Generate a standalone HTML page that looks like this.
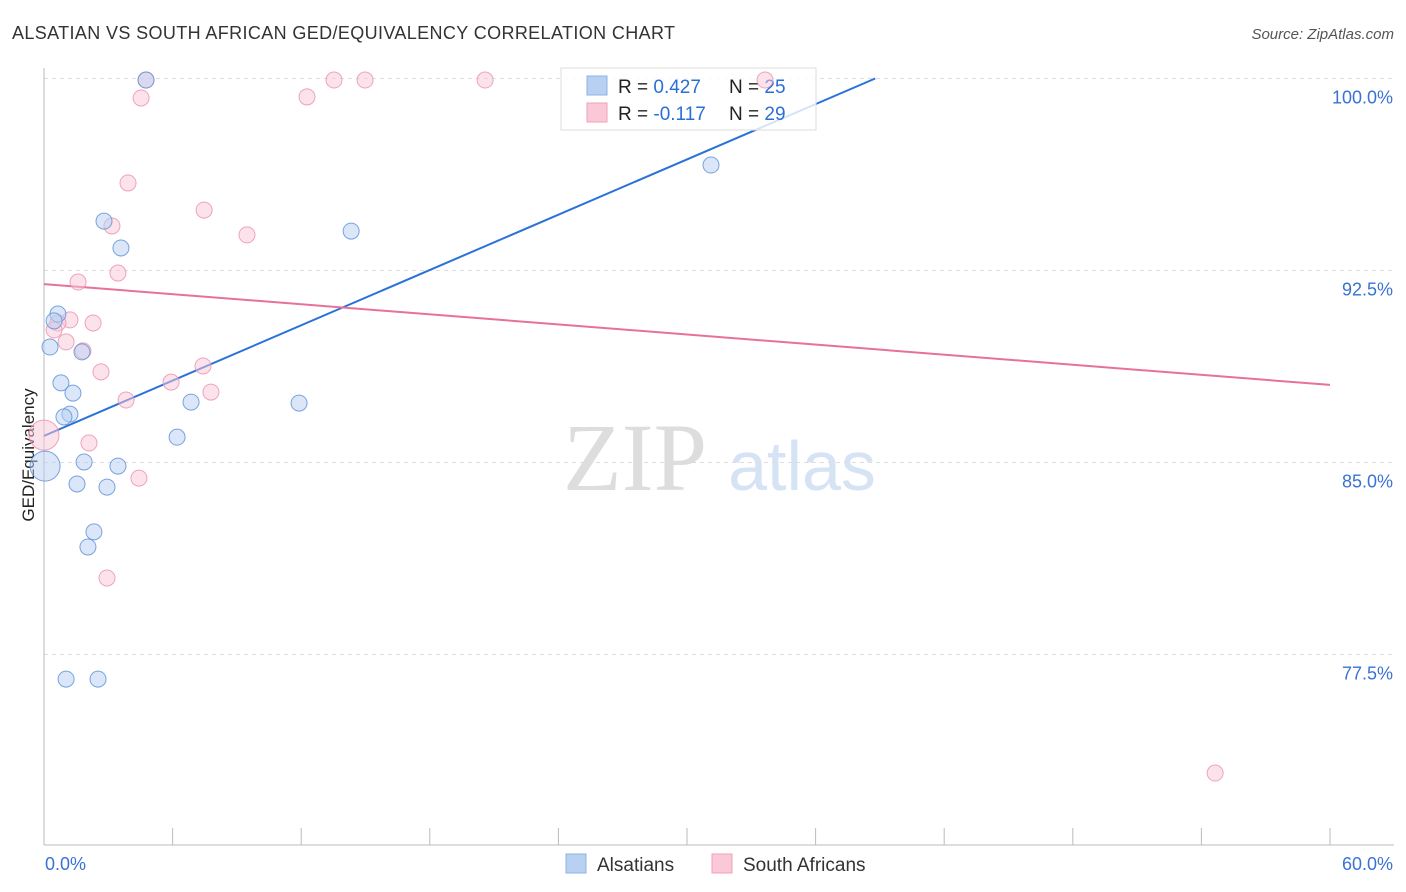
<!DOCTYPE html>
<html><head><meta charset="utf-8"><style>
body{margin:0;background:#fff;font-family:"Liberation Sans",sans-serif;}
svg{display:block}
</style></head><body>
<svg id="chart" width="1406" height="892">
<text x="12" y="39" font-size="18" fill="#333" textLength="663">ALSATIAN VS SOUTH AFRICAN GED/EQUIVALENCY CORRELATION CHART</text>
<text x="1394" y="39" font-size="15" fill="#555" font-style="italic" text-anchor="end">Source: ZipAtlas.com</text>
<text x="0" y="0" transform="translate(34,455) rotate(-90)" font-size="17" fill="#222" text-anchor="middle">GED/Equivalency</text>
<g>
<text x="635" y="490" font-size="96" fill="#ddd" font-family="Liberation Serif,serif" text-anchor="middle">ZIP</text>
<text x="802" y="490" font-size="70" fill="#d6e3f5" text-anchor="middle">atlas</text>
</g>
<g id="grid"></g><g id="axes"></g><g id="lines"></g>
<g>
<rect x="561" y="68" width="255" height="62" fill="#fff" fill-opacity="0.8" stroke="#ddd"/>
<rect x="587" y="76" width="20" height="19" fill="#b8d0f2" stroke="#8fb2e6"/>
<rect x="587" y="103" width="20" height="19" fill="#fac8d7" stroke="#f0a0b8"/>
<text x="618" y="93" font-size="19" fill="#222">R = <tspan fill="#2a6fd6">0.427</tspan></text>
<text x="729" y="93" font-size="19" fill="#222">N = <tspan fill="#2a6fd6">25</tspan></text>
<text x="618" y="120" font-size="19" fill="#222">R = <tspan fill="#2a6fd6">-0.117</tspan></text>
<text x="729" y="120" font-size="19" fill="#222">N = <tspan fill="#2a6fd6">29</tspan></text>
</g>
<g id="points"></g>
<g>
<rect x="566" y="854" width="20" height="19" fill="#b8d0f2" stroke="#8fb2e6"/>
<text x="597" y="871" font-size="19" fill="#333">Alsatians</text>
<text x="743" y="871" font-size="19" fill="#333">South Africans</text>
<rect x="712" y="854" width="20" height="19" fill="#fac8d7" stroke="#f0a0b8"/>
</g>
</svg>
<script>
const yTicks=[100,92.5,85,77.5];
const yTickLabels=["100.0%","92.5%","85.0%","77.5%"];
const xEnds=["0.0%","60.0%"];
const blueX=[4.76,2.80,3.59,14.33,31.12,0.65,0.47,0.28,1.77,0.79,1.35,1.21,0.93,6.86,11.90,6.21,1.87,3.45,0.05,1.54,2.94,2.33,2.05,1.03,2.52];
const blueY=[99.94,94.43,93.38,94.04,96.62,90.80,90.53,89.51,89.32,88.11,87.71,86.89,86.78,87.36,87.32,85.99,85.02,84.86,84.86,84.16,84.04,82.29,81.70,76.54,76.54];
const pinkX=[4.76,4.53,13.53,14.98,20.58,33.64,12.27,3.92,7.47,3.17,9.47,3.45,1.59,1.21,2.29,0.65,0.47,1.03,1.82,2.66,7.42,5.93,7.79,3.83,2.10,0,4.43,2.94,54.64];
const pinkY=[99.94,99.24,99.94,99.94,99.94,99.94,99.28,95.92,94.86,94.24,93.89,92.40,92.05,90.57,90.45,90.45,90.18,89.71,89.36,88.54,88.77,88.14,87.75,87.44,85.76,86.07,84.39,80.49,72.87];
const blueLine=[[0,86.04],[38.78,100]];
const pinkLine=[[0,91.97],[60,88.03]];
const NS="http://www.w3.org/2000/svg";
const sx=v=>44+v*(1286/60);
const sy=v=>78.5+(100-v)*25.6;
function mk(tag,attrs,parent){const e=document.createElementNS(NS,tag);for(const k in attrs)e.setAttribute(k,attrs[k]);document.getElementById(parent).appendChild(e);return e;}
yTicks.forEach((t,i)=>{
 const l=mk('line',{x1:44,x2:1394,y1:sy(t),y2:sy(t),stroke:'#ddd','stroke-dasharray':'4,4'},'grid');
 
 
 const tx=mk('text',{x:1393,y:sy(t)+25,'font-size':18,fill:'#3a72d4','text-anchor':'end'},'grid');
 tx.textContent=yTickLabels[i];
 
 
});
const ax=mk('line',{x1:44,x2:44,y1:68,y2:845,stroke:'#bbb'},'axes');


const bx=mk('line',{x1:44,x2:1394,y1:845,y2:845,stroke:'#bbb'},'axes');


for(let i=0;i<=10;i++){
 const t=mk('line',{x1:sx(i*6),x2:sx(i*6),y1:828,y2:845,stroke:'#bbb'},'axes');
 
 
}
[[0,'start',45],[60,'end',1393]].forEach((d,i)=>{
 const t=mk('text',{x:d[2],y:870,'font-size':18,fill:'#3a72d4','text-anchor':d[1]},'axes');
 t.textContent=xEnds[i];
 
 
});
function pts(X,Y,fill,stroke,name){
 X.forEach((x,i)=>{
  const r=x<0.1?15:8;
  const c=mk('circle',{cx:sx(x),cy:sy(Y[i]),r:r,fill:fill,stroke:stroke,'stroke-width':1,'fill-opacity':0.5,'stroke-opacity':0.8},'points');
  
  
 });
}
pts(pinkX,pinkY,'#fac8d7','#eb8fae','south-african-point');
pts(blueX,blueY,'#b8d0f2','#5a8fd8','alsatian-point');
const b=mk('line',{x1:sx(blueLine[0][0]),y1:sy(blueLine[0][1]),x2:sx(blueLine[1][0]),y2:sy(blueLine[1][1]),stroke:'#2a72d8','stroke-width':2},'lines');


const p=mk('line',{x1:sx(pinkLine[0][0]),y1:sy(pinkLine[0][1]),x2:sx(pinkLine[1][0]),y2:sy(pinkLine[1][1]),stroke:'#e8709a','stroke-width':2},'lines');


</script>
</body></html>
